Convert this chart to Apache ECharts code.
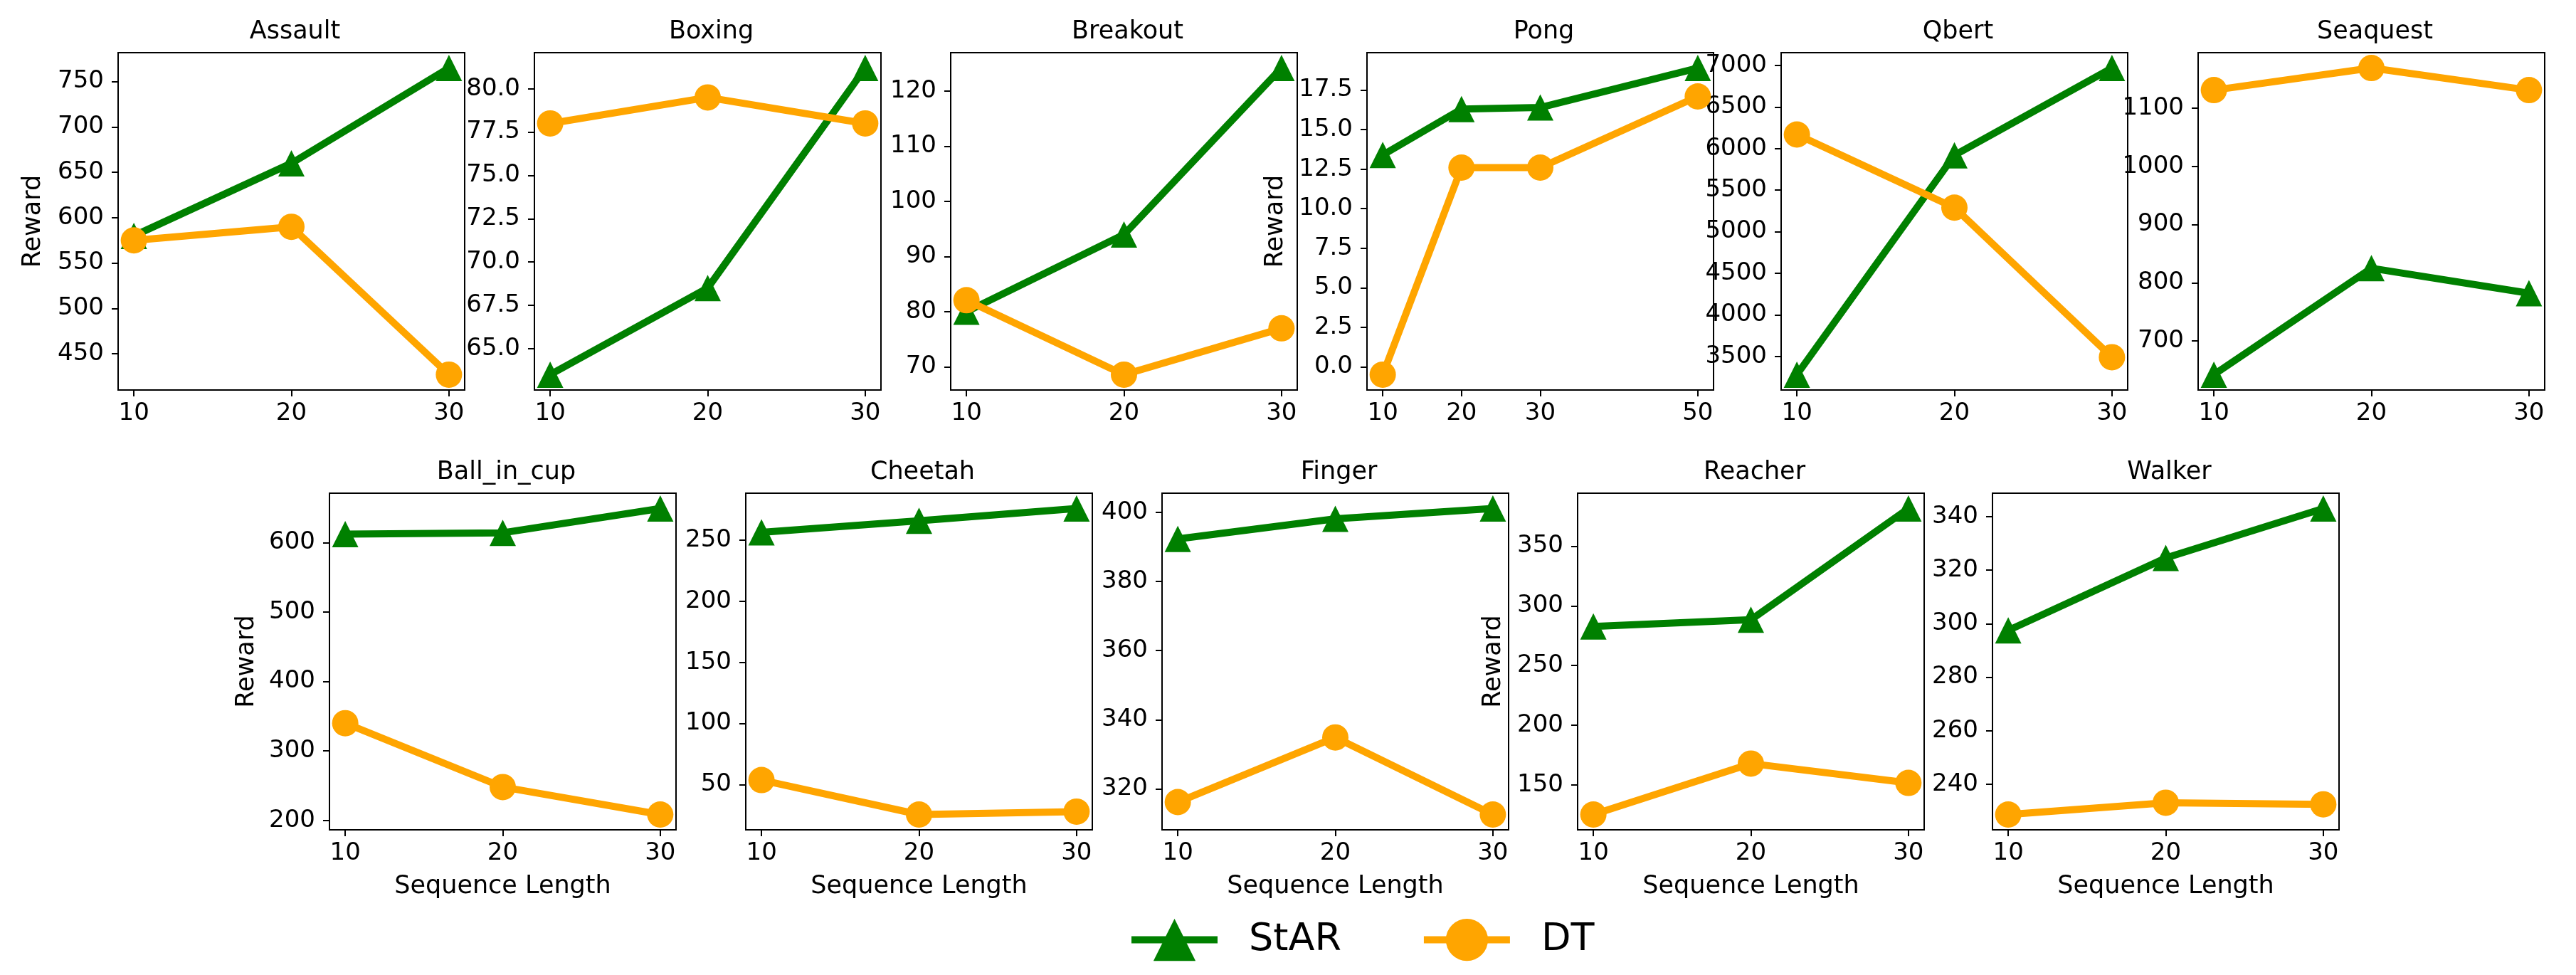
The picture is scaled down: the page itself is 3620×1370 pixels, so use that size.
<!DOCTYPE html>
<html>
<head>
<meta charset="utf-8">
<script src="https://cdn.jsdelivr.net/npm/echarts@6/dist/echarts.min.js"></script>
<style>
html, body { margin: 0; background: #fff; }
#chart { width: 3620px; height: 1370px; }
</style>
</head>
<body>
<div id="chart"></div>
<script>
// x values (sequence length)
var seqLen = [10, 20, 30];
var pongSeqLen = [10, 20, 30, 50];

// rewards
var assaultStar = [580, 660, 765];
var assaultDt = [575, 590, 427];
var boxingStar = [63.5, 68.5, 81.2];
var boxingDt = [78.0, 79.5, 78.0];
var breakoutStar = [80, 94, 124.2];
var breakoutDt = [82.1, 68.6, 77];
var pongStar = [13.4, 16.3, 16.4, 18.9];
var pongDt = [-0.5, 12.6, 12.6, 17.1];
var qbertStar = [3280, 5920, 6970];
var qbertDt = [6170, 5290, 3490];
var seaquestStar = [642, 825, 782];
var seaquestDt = [1131, 1169, 1131];
var ballStar = [612, 614, 649];
var ballDt = [340, 248, 208.5];
var cheetahStar = [256.5, 266, 276];
var cheetahDt = [53.6, 25.4, 27.8];
var fingerStar = [392.3, 398.1, 401.1];
var fingerDt = [316.2, 334.9, 312.6];
var reacherStar = [282.7, 288.4, 381.6];
var reacherDt = [125.2, 167.9, 151.7];
var walkerStar = [297.5, 324.5, 343];
var walkerDt = [228.7, 233.1, 232.5];

// y tick labels
var assaultTicks = [450, 500, 550, 600, 650, 700, 750];
var boxingTicks = [65, 67.5, 70, 72.5, 75, 77.5, 80];
var breakoutTicks = [70, 80, 90, 100, 110, 120];
var pongTicks = [0, 2.5, 5, 7.5, 10, 12.5, 15, 17.5];
var qbertTicks = [3500, 4000, 4500, 5000, 5500, 6000, 6500, 7000];
var seaquestTicks = [700, 800, 900, 1000, 1100];
var ballTicks = [200, 300, 400, 500, 600];
var cheetahTicks = [50, 100, 150, 200, 250];
var fingerTicks = [320, 340, 360, 380, 400];
var reacherTicks = [150, 200, 250, 300, 350];
var walkerTicks = [240, 260, 280, 300, 320, 340];

var panels = [
	{ title: 'Assault', x: seqLen, star: assaultStar, dt: assaultDt, ticks: assaultTicks, dec: 0, reward: 102 },
	{ title: 'Boxing', x: seqLen, star: boxingStar, dt: boxingDt, ticks: boxingTicks, dec: 1 },
	{ title: 'Breakout', x: seqLen, star: breakoutStar, dt: breakoutDt, ticks: breakoutTicks, dec: 0 },
	{ title: 'Pong', x: pongSeqLen, star: pongStar, dt: pongDt, ticks: pongTicks, dec: 1, reward: 111 },
	{ title: 'Qbert', x: seqLen, star: qbertStar, dt: qbertDt, ticks: qbertTicks, dec: 0 },
	{ title: 'Seaquest', x: seqLen, star: seaquestStar, dt: seaquestDt, ticks: seaquestTicks, dec: 0 },
	{ title: 'Ball_in_cup', x: seqLen, star: ballStar, dt: ballDt, ticks: ballTicks, dec: 0, reward: 99, xname: true },
	{ title: 'Cheetah', x: seqLen, star: cheetahStar, dt: cheetahDt, ticks: cheetahTicks, dec: 0, xname: true },
	{ title: 'Finger', x: seqLen, star: fingerStar, dt: fingerDt, ticks: fingerTicks, dec: 0, xname: true },
	{ title: 'Reacher', x: seqLen, star: reacherStar, dt: reacherDt, ticks: reacherTicks, dec: 0, reward: 101, xname: true },
	{ title: 'Walker', x: seqLen, star: walkerStar, dt: walkerDt, ticks: walkerTicks, dec: 0, xname: true }
];

// plot boxes (px)
var topLefts = [166, 751, 1336, 1921, 2503, 3089];
var botLefts = [463, 1048, 1633, 2217, 2800];
var boxW = 487;
var rows = [{ top: 74, h: 474, titleTop: 22 }, { top: 693, h: 473, titleTop: 641 }];

var FONT = 'DejaVu Sans';
var GREEN = '#008000';
var ORANGE = '#FFA500';

var grids = [], xAxes = [], yAxes = [], titles = [], series = [];

// matplotlib-like 5% margins
function padRange(arr) {
	var lo = Math.min.apply(null, arr), hi = Math.max.apply(null, arr);
	var m = (hi - lo) * 0.05;
	return [lo - m, hi + m];
}

panels.forEach(function(p, i) {
	var row = i < 6 ? rows[0] : rows[1];
	var left = i < 6 ? topLefts[i] : botLefts[i - 6];
	grids.push({
		left: left, top: row.top, width: boxW, height: row.h,
		show: true, borderColor: '#000', borderWidth: 2, backgroundColor: 'transparent'
	});
	titles.push({
		text: p.title, left: left + boxW / 2, top: row.titleTop, textAlign: 'center',
		textStyle: { fontFamily: FONT, fontSize: 35, fontWeight: 'normal', color: '#000' }
	});
	var xr = padRange(p.x);
	var yr = padRange(p.star.concat(p.dt));
	xAxes.push({
		gridIndex: i, type: 'value', min: xr[0], max: xr[1],
		axisLine: { show: false, onZero: false },
		splitLine: { show: false },
		axisTick: { show: true, length: 9, lineStyle: { color: '#000', width: 2 }, customValues: p.x },
		axisLabel: { customValues: p.x, fontFamily: FONT, fontSize: 34, color: '#000', margin: 16 },
		name: p.xname ? 'Sequence Length' : '',
		nameLocation: 'middle', nameGap: 62,
		nameTextStyle: { fontFamily: FONT, fontSize: 35, color: '#000' }
	});
	yAxes.push({
		gridIndex: i, type: 'value', min: yr[0], max: yr[1],
		axisLine: { show: false, onZero: false },
		splitLine: { show: false },
		axisTick: { show: true, length: 9, lineStyle: { color: '#000', width: 2 }, customValues: p.ticks },
		axisLabel: {
			customValues: p.ticks, fontFamily: FONT, fontSize: 34, color: '#000', margin: 20,
			formatter: (function(dec) { return function(v) { return Number(v).toFixed(dec); }; })(p.dec)
		},
		name: p.reward ? 'Reward' : '',
		nameLocation: 'middle', nameRotate: 90, nameGap: p.reward || 0,
		nameTextStyle: { fontFamily: FONT, fontSize: 35, color: '#000' }
	});
	series.push({
		name: 'StAR', type: 'line', xAxisIndex: i, yAxisIndex: i,
		data: p.x.map(function(v, k) { return [v, p.star[k]]; }),
		symbol: 'triangle', symbolSize: 37, showAllSymbol: true, clip: false,
		lineStyle: { color: GREEN, width: 10 }, itemStyle: { color: GREEN }
	});
	series.push({
		name: 'DT', type: 'line', xAxisIndex: i, yAxisIndex: i,
		data: p.x.map(function(v, k) { return [v, p.dt[k]]; }),
		symbol: 'circle', symbolSize: 37, showAllSymbol: true, clip: false,
		lineStyle: { color: ORANGE, width: 10 }, itemStyle: { color: ORANGE }
	});
});

var chart = echarts.init(document.getElementById('chart'), null, { renderer: 'canvas' });
chart.setOption({
	animation: false,
	backgroundColor: '#fff',
	title: titles,
	grid: grids,
	xAxis: xAxes,
	yAxis: yAxes,
	legend: {
		data: ['StAR', 'DT'],
		left: 1585, top: 1291, padding: 0,
		itemWidth: 121, itemHeight: 74, itemGap: 111,
		lineStyle: { width: 10 },
		textStyle: { fontFamily: FONT, fontSize: 54, color: '#000', padding: [0, 0, 0, 39] }
	},
	series: series
});
</script>
</body>
</html>
